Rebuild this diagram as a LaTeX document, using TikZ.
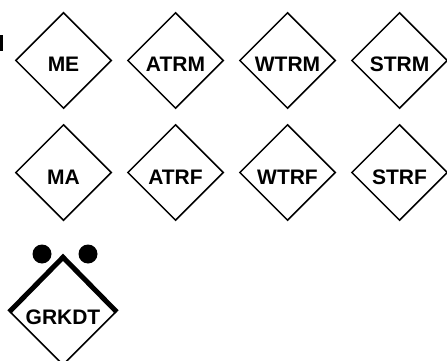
\documentclass[tikz,border=0pt]{standalone}
\usepackage{fontspec}
\setmainfont{Liberation Sans}
\usetikzlibrary{shapes.geometric}
\begin{document}
\begin{tikzpicture}[x=1pt,y=-1pt,
  dia/.style={diamond,draw=black,line width=1.5pt,inner sep=0pt,minimum width=96pt,minimum height=96pt,
    text height=23pt,text depth=0pt,
    font=\fontsize{21pt}{23pt}\selectfont\bfseries}]
\useasboundingbox (0,0) rectangle (447,361);
\fill[black] (0,35) rectangle (2.6,51.5);
\node[dia] (me)   at (63.5,60.5) {ME};
\node[dia] (atrm) at (175.5,60.5) {ATRM};
\node[dia] (wtrm) at (287.5,60.5) {WTRM};
\node[dia] (strm) at (399.5,60.5) {STRM};
\node[dia] (ma)   at (63.5,172.5) {MA};
\node[dia] (atrf) at (175.5,172.5) {ATRF};
\node[dia] (wtrf) at (287.5,172.5) {WTRF};
\node[dia] (strf) at (399.5,172.5) {STRF};
\node[dia,minimum width=106pt,minimum height=106pt,text height=25pt] (grkdt) at (63,312) {GRKDT};
\draw[line width=5pt,line join=miter]
  (grkdt.west) -- ([shift={(0,-1)}]grkdt.north) -- (grkdt.east);
\fill[black] ([shift={(-21,-58)}]grkdt.center) coordinate (dl) circle (9.5);
\fill[black] ([shift={(25,-58)}]grkdt.center) coordinate (dr) circle (9.5);
\end{tikzpicture}
\end{document}
